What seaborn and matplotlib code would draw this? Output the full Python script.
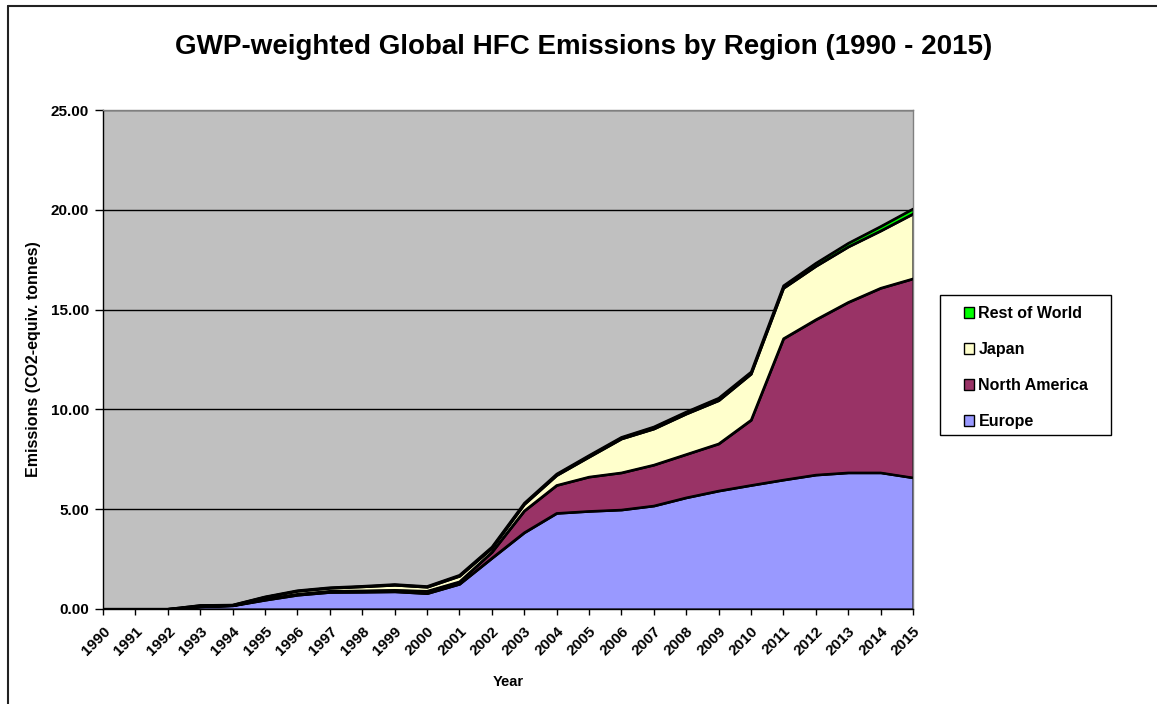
import matplotlib
matplotlib.use("Agg")
import matplotlib.pyplot as plt
import seaborn as sns
import numpy as np
from matplotlib.patches import Patch, Rectangle
from matplotlib.lines import Line2D

years = list(range(1990, 2016))
europe = [0, 0, 0, 0.12, 0.17, 0.45, 0.70, 0.84, 0.85, 0.87, 0.78, 1.25, 2.55, 3.83, 4.80, 4.90, 4.97, 5.17, 5.58, 5.92, 6.20, 6.47, 6.72, 6.83, 6.83, 6.58]
north_america = [0, 0, 0, 0.01, 0.01, 0.05, 0.05, 0.06, 0.07, 0.08, 0.12, 0.12, 0.30, 1.09, 1.40, 1.72, 1.86, 2.05, 2.17, 2.36, 3.27, 7.08, 7.78, 8.54, 9.25, 9.97]
japan = [0, 0, 0, 0.05, 0.02, 0.10, 0.15, 0.15, 0.20, 0.25, 0.20, 0.28, 0.20, 0.33, 0.50, 1.00, 1.70, 1.81, 2.03, 2.17, 2.31, 2.53, 2.68, 2.78, 2.87, 3.25]
rest_of_world = [0, 0, 0, 0.01, 0.01, 0.02, 0.03, 0.03, 0.03, 0.04, 0.04, 0.05, 0.06, 0.06, 0.07, 0.08, 0.08, 0.10, 0.10, 0.12, 0.10, 0.12, 0.15, 0.18, 0.22, 0.25]
series_names = ["Europe", "North America", "Japan", "Rest of World"]
colors = ["#9999FF", "#993366", "#FFFFCC", "#00FF00"]
yticks = [0, 5, 10, 15, 20, 25]

sns.set_theme(style="white", rc={"text.color": "black", "axes.labelcolor": "black",
                                  "xtick.color": "black", "ytick.color": "black"})
plt.rcParams['font.family'] = ['Liberation Sans', 'DejaVu Sans']

W, H = 1157, 704
fig = plt.figure(figsize=(W / 100, H / 100), dpi=100)
ax = fig.add_axes([103 / W, 1 - 609 / H, (913 - 103) / W, (609 - 110) / H])
ax.set_facecolor("#C0C0C0")

data = [europe, north_america, japan, rest_of_world]
ax.stackplot(years, *data, colors=colors, edgecolor="black", linewidth=1.5, zorder=2)

cum = np.cumsum(np.array(data), axis=0)
for i in range(len(series_names)):
    sns.lineplot(x=years, y=cum[i], color="black", linewidth=1.5, ax=ax, zorder=3)

ax.set_xlim(1990, 2015)
ax.set_ylim(0, 25)
ax.set_yticks(yticks)
ax.set_yticklabels([f"{v:.2f}" for v in yticks], fontsize=11, fontweight="bold")
ax.set_xticks(years)
ax.set_xticklabels([str(y) for y in years], rotation=45, ha="right", rotation_mode="anchor",
                   fontsize=11, fontweight="bold")
ax.tick_params(axis="y", direction="out", length=6, width=1, color="black", pad=4, left=True)
ax.tick_params(axis="x", direction="out", length=4, width=1, color="black", pad=7, bottom=True)
for y in yticks[1:]:
    ax.axhline(y, color="black", linewidth=1, zorder=1)
for s in ax.spines.values():
    s.set_color("#808080")
    s.set_linewidth(1)
ax.spines["left"].set_color("black")
ax.spines["bottom"].set_color("black")

ax.set_xlabel("Year", fontsize=10.5, fontweight="bold", labelpad=12)
ax.set_ylabel("Emissions (CO2-equiv. tonnes)", fontsize=11.5, fontweight="bold", labelpad=7)

fig.text(584 / W, 1 - 47 / H, "GWP-weighted Global HFC Emissions by Region (1990 - 2015)",
         ha="center", va="center", fontsize=20, fontweight="bold")

# legend frame
fig.add_artist(Rectangle((940 / W, 1 - 435 / H), (1111 - 940) / W, (435 - 295) / H,
                         transform=fig.transFigure, fill=True, facecolor="white",
                         edgecolor="black", linewidth=1, zorder=1))
handles = [Patch(facecolor=colors[i], edgecolor="black", linewidth=1, label=series_names[i])
           for i in [3, 2, 1, 0]]
leg = fig.legend(handles=handles, loc="upper left",
                 bbox_to_anchor=(964 / W, 1 - 306 / H),
                 frameon=False, borderpad=0, borderaxespad=0,
                 handlelength=0.65, handleheight=0.65, handletextpad=0.25,
                 labelspacing=1.32, prop={"weight": "bold", "size": 11.5})
leg.set_zorder(2)

# figure border (top and left visible)
fig.add_artist(Line2D([7.5 / W, 1], [1 - 5.5 / H, 1 - 5.5 / H], transform=fig.transFigure,
                      color="#222222", linewidth=1.5))
fig.add_artist(Line2D([7.5 / W, 7.5 / W], [0, 1 - 5.5 / H], transform=fig.transFigure,
                      color="#222222", linewidth=1.5))

fig.savefig("out.png", dpi=100, facecolor="white")
